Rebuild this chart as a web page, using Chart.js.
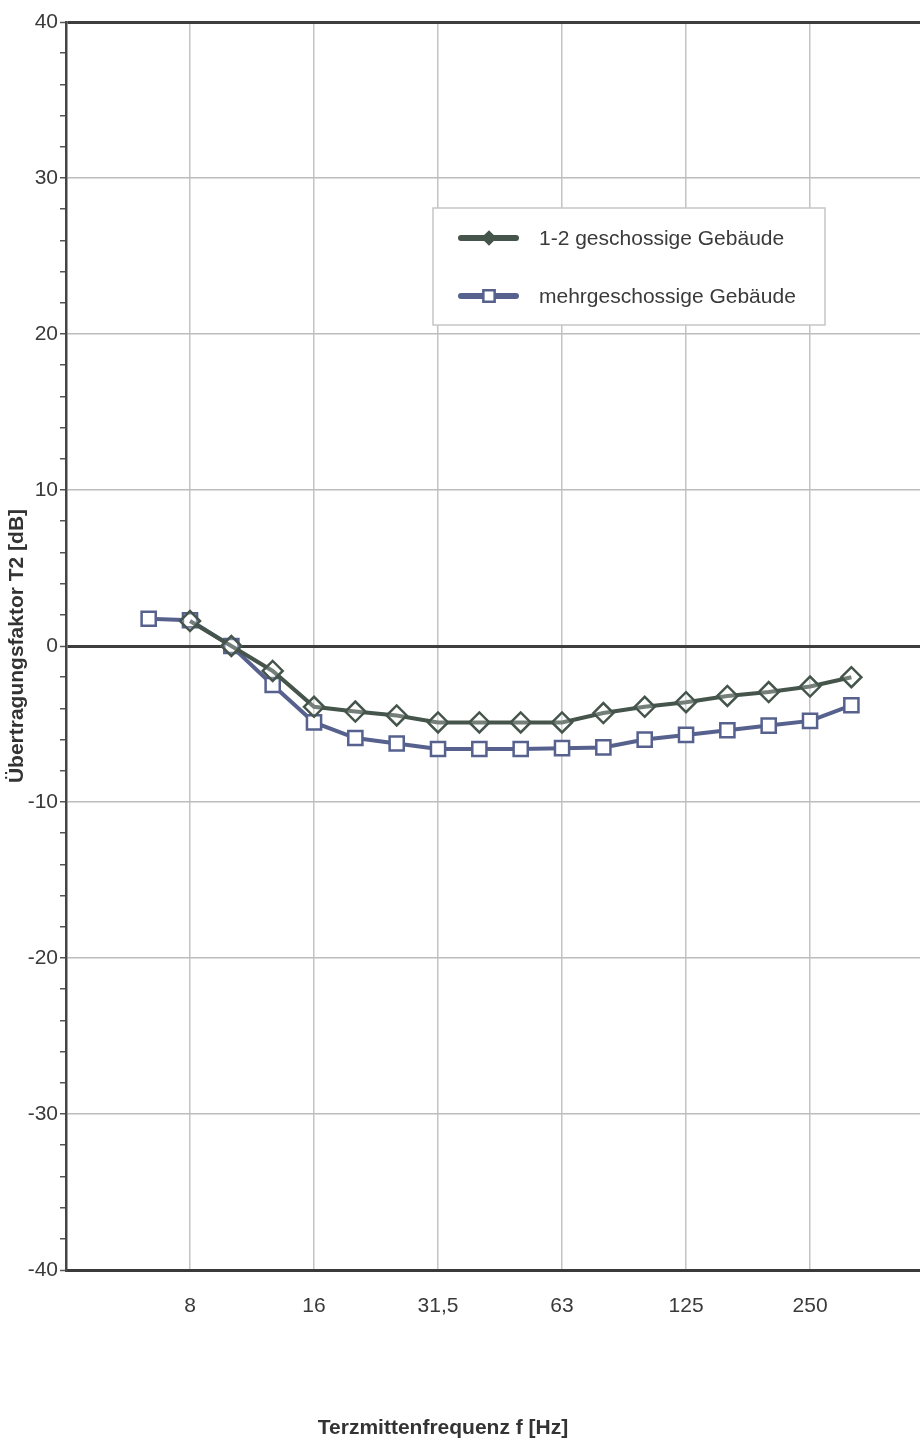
<!DOCTYPE html>
<html>
<head>
<meta charset="utf-8">
<script src="https://cdn.jsdelivr.net/npm/chart.js@4.4.1/dist/chart.umd.min.js"></script>
<style>
  html, body { margin: 0; padding: 0; background: #fff; overflow: hidden; }
  #wrap { width: 920px; height: 1440px; }
  canvas { display: block; }
</style>
</head>
<body>
<div id="wrap"><canvas id="t2-chart"></canvas></div>
<script>
// third-octave centre frequencies (one category each)
const freqLabels = ['4','5','6,3','8','10','12,5','16','20','25','31,5','40','50','63','80','100','125','160','200','250','315','400','500'];
const shownFreqs = ['8','16','31,5','63','125','250'];

const lowRise = [null,null,null,1.6,0,-1.6,-3.9,-4.2,-4.45,-4.9,-4.9,-4.9,-4.9,-4.3,-3.9,-3.6,-3.2,-2.95,-2.6,-2.0];
const multiStorey = [null,null,1.75,1.65,0,-2.5,-4.9,-5.9,-6.25,-6.6,-6.6,-6.6,-6.55,-6.5,-6.0,-5.7,-5.4,-5.1,-4.8,-3.8];

const seriesNames = ['1-2 geschossige Gebäude', 'mehrgeschossige Gebäude'];
const yTitle = 'Übertragungsfaktor T2 [dB]';
const xTitle = 'Terzmittenfrequenz f [Hz]';

const FONT = '"Liberation Sans", Arial, sans-serif';

function toPoints(arr) {
  const out = [];
  arr.forEach((v, i) => { if (v !== null) out.push({ x: i, y: v }); });
  return out;
}

// legend box inside the plot + x caption
const boxLegend = {
  id: 'boxLegend',
  afterDatasetsDraw(chart) {
    const ctx = chart.ctx;
    ctx.save();
    ctx.fillStyle = '#fff';
    ctx.strokeStyle = '#c6c6c6';
    ctx.lineWidth = 1.5;
    ctx.fillRect(433, 208, 392, 117);
    ctx.strokeRect(433, 208, 392, 117);
    chart.data.datasets.forEach((ds, i) => {
      const y = 238 + i * 58;
      ctx.strokeStyle = ds.borderColor;
      ctx.lineWidth = 6;
      ctx.lineCap = 'round';
      ctx.beginPath();
      ctx.moveTo(461, y);
      ctx.lineTo(516, y);
      ctx.stroke();
      ctx.fillStyle = ds.legendFill;
      ctx.lineWidth = 2.5;
      Chart.helpers.drawPoint(ctx, { pointStyle: ds.pointStyle, radius: ds.legendRadius, borderWidth: 2.5 }, 489, y);
      ctx.fillStyle = '#3a3a3a';
      ctx.font = '21px ' + FONT;
      ctx.textAlign = 'left';
      ctx.textBaseline = 'middle';
      ctx.fillText(ds.label, 539, y + 1);
    });
    ctx.font = 'bold 21px ' + FONT;
    ctx.fillStyle = '#333';
    ctx.textAlign = 'center';
    ctx.fillText(xTitle, 443, 1428);
    ctx.restore();
  }
};

const ctxT2 = document.getElementById('t2-chart').getContext('2d');

const chartT2 = new Chart(ctxT2, {
  type: 'line',
  data: {
    datasets: [{
      label: seriesNames[0],
      data: toPoints(lowRise),
      borderColor: '#45554b',
      borderWidth: 4,
      pointStyle: 'rectRot',
      pointRadius: 10,
      pointBorderWidth: 2.5,
      pointBackgroundColor: 'rgba(255,255,255,0.25)',
      legendFill: '#45554b',
      legendRadius: 6
    },
    {
      label: seriesNames[1],
      data: toPoints(multiStorey),
      borderColor: '#56618e',
      borderWidth: 4,
      pointStyle: 'rect',
      pointRadius: 10,
      pointBorderWidth: 2.5,
      pointBackgroundColor: '#fff',
      legendFill: '#fff',
      legendRadius: 8
    }]
  },
  options: {
    responsive: true,
    maintainAspectRatio: false,
    animation: false,
    layout: { autoPadding: false, padding: { top: 22, right: 0, left: 0, bottom: 0 } },
    elements: { line: { tension: 0 } },
    scales: {
      x: {
        type: 'linear',
        min: 0,
        max: 20.66,
        afterBuildTicks: (scale) => {
          scale.ticks = shownFreqs.map(f => ({ value: freqLabels.indexOf(f) }));
        },
        afterFit: (scale) => {
          scale.height = 170;
          scale.paddingLeft = 0;
          scale.paddingRight = 0;
        },
        ticks: {
          callback: (v) => freqLabels[v],
          padding: 24,
          color: '#3a3a3a',
          font: { family: FONT, size: 21 },
          maxRotation: 0
        },
        grid: { color: '#c4c4c4', lineWidth: 1.5, drawTicks: false },
        border: { color: '#3a3a3a', width: 3 }
      },
      y: {
        min: -40,
        max: 40,
        afterFit: (scale) => { scale.width = 66; },
        ticks: {
          stepSize: 2,
          autoSkip: false,
          callback: (v) => (v % 10 === 0 ? v : ''),
          padding: 2,
          color: '#3a3a3a',
          font: { family: FONT, size: 21 }
        },
        grid: {
          color: (c) => {
            const v = c.tick.value;
            if (v % 10 !== 0) return 'rgba(0,0,0,0)';
            if (v === 0 || Math.abs(v) === 40) return '#3d3d3d';
            return '#bdbdbd';
          },
          lineWidth: (c) => {
            const v = c.tick.value;
            return (v === 0 || Math.abs(v) === 40) ? 3 : 1.5;
          },
          tickColor: '#555',
          tickWidth: 1.5,
          tickLength: 6
        },
        border: { color: '#444', width: 2.5 },
        title: {
          display: true,
          text: yTitle,
          color: '#333',
          padding: { top: 5, bottom: 0 },
          font: { family: FONT, size: 21, weight: 'bold' }
        }
      }
    },
    plugins: {
      legend: { display: false },
      tooltip: { enabled: false }
    }
  },
  plugins: [boxLegend]
});
</script>
</body>
</html>
